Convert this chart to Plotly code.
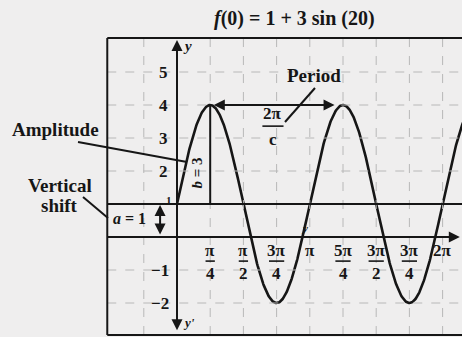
import numpy as np
import plotly.graph_objects as go

# Parameters of f(θ) = a + b·sin(cθ)
a_shift = 1
b_amp = 3
c_freq = 2

# Axis tick data (x ticks are multiples of π/4)
q = np.pi / 4
x_tick_k = [1, 2, 3, 4, 5, 6, 7, 8]
x_tick_num = ["π", "π", "3π", "π", "5π", "3π", "3π", "2π"]
x_tick_den = ["4", "2", "4", "", "4", "2", "4", ""]
y_ticks = [5, 4, 3, 2, -1, -2]
y_tick_text = ["5", "4", "3", "2", "−1", "−2"]
grid_x_k = [-1, 1, 2, 3, 4, 5, 6, 7, 8]
grid_y = [-2, -1, 2, 3, 4, 5]

# Plot frame (data units)
X0, X1 = -4.187, 6.742
Y0, Y1 = -3.03, 7.182
box_left = -2.1 * q
box_top = 6.03
box_bottom = -2.97

INK = "#161616"
FONT = "Liberation Serif"

theta = np.linspace(0, 8.7 * q, 600)
f = a_shift + b_amp * np.sin(c_freq * theta)

fig = go.Figure()
fig.add_trace(go.Scatter(x=theta, y=f, mode="lines",
                         line=dict(color=INK, width=2.6), hoverinfo="skip"))

shapes = []
# dashed grid inside the frame
for k in grid_x_k:
    shapes.append(dict(type="line", xref="x", yref="y", x0=k * q, x1=k * q,
                       y0=box_bottom, y1=box_top,
                       line=dict(color="#b8b8b8", width=1, dash="dash")))
for gy in grid_y:
    shapes.append(dict(type="line", xref="x", yref="y", x0=box_left, x1=X1,
                       y0=gy, y1=gy,
                       line=dict(color="#b8b8b8", width=1, dash="dash")))
# frame
shapes.append(dict(type="line", xref="x", yref="y", x0=box_left, x1=box_left,
                   y0=box_bottom, y1=box_top, line=dict(color=INK, width=2)))
shapes.append(dict(type="line", xref="x", yref="y", x0=box_left, x1=X1,
                   y0=box_top, y1=box_top, line=dict(color=INK, width=2)))
shapes.append(dict(type="line", xref="x", yref="y", x0=box_left, x1=X1,
                   y0=box_bottom, y1=box_bottom, line=dict(color=INK, width=2)))
# midline y = a
shapes.append(dict(type="line", xref="x", yref="y", x0=box_left, x1=X1,
                   y0=a_shift, y1=a_shift, line=dict(color=INK, width=2)))
# x axis
shapes.append(dict(type="line", xref="x", yref="y", x0=box_left, x1=6.6,
                   y0=0, y1=0, line=dict(color=INK, width=2)))
# amplitude segment at the first peak
peak_x = np.pi / (2 * c_freq)
shapes.append(dict(type="line", xref="x", yref="y", x0=peak_x, x1=peak_x,
                   y0=a_shift, y1=a_shift + b_amp, line=dict(color=INK, width=2)))
# fraction bars for tick labels
for k, num, den in zip(x_tick_k, x_tick_num, x_tick_den):
    if den:
        w = 0.36 if len(num) > 1 else 0.22
        shapes.append(dict(type="line", xref="x", yref="y",
                           x0=k * q - w / 2, x1=k * q + w / 2, y0=-0.73, y1=-0.73,
                           line=dict(color=INK, width=1.6)))
# 2π/c fraction bar
shapes.append(dict(type="line", xref="x", yref="y", x0=2.02, x1=2.52,
                   y0=3.36, y1=3.36, line=dict(color=INK, width=1.6)))
# pointer lines
shapes.append(dict(type="line", xref="paper", yref="paper",
                   x0=78 / 462, y0=1 - 142 / 337, x1=187 / 462, y1=1 - 162 / 337,
                   line=dict(color=INK, width=2)))
shapes.append(dict(type="line", xref="paper", yref="paper",
                   x0=83 / 462, y0=1 - 197 / 337, x1=108 / 462, y1=1 - 218 / 337,
                   line=dict(color=INK, width=2)))
shapes.append(dict(type="line", xref="paper", yref="paper",
                   x0=315 / 462, y0=1 - 88 / 337, x1=285 / 462, y1=1 - 122 / 337,
                   line=dict(color=INK, width=2)))

ann = []


def txt(x, y, s, size=14, bold=True, italic=False, ref="x", angle=0):
    if italic:
        s = "<i>" + s + "</i>"
    if bold:
        s = "<b>" + s + "</b>"
    ann.append(dict(x=x, y=y, xref=ref, yref="y" if ref == "x" else "paper",
                    text=s, showarrow=False, textangle=angle,
                    font=dict(family=FONT, size=size, color=INK),
                    xanchor="center", yanchor="middle"))


def arrow(x0, y0, x1, y1, both=False):
    ann.append(dict(x=x1, y=y1, ax=x0, ay=y0, xref="x", yref="y",
                    axref="x", ayref="y", text="", showarrow=True,
                    arrowhead=2, arrowsize=1.1, arrowwidth=2, arrowcolor=INK,
                    arrowside="end+start" if both else "end"))


# y axis with arrows at both ends
arrow(0, box_bottom + 0.1, 0, 5.97, both=True)
# x axis arrow
arrow(6.3, 0, 6.69, 0)
# vertical shift a
arrow(-0.4, 0.03, -0.4, a_shift - 0.03, both=True)
# period arrow between consecutive peaks
period = 2 * np.pi / c_freq
arrow(peak_x + 0.05, a_shift + b_amp, peak_x + period - 0.2, a_shift + b_amp, both=True)

# x tick labels
for k, num, den in zip(x_tick_k, x_tick_num, x_tick_den):
    txt(k * q, -0.42, num, size=17)
    if den:
        txt(k * q, -1.1, den, size=17)
# y tick labels
for v, s in zip(y_ticks, y_tick_text):
    txt(-0.32 if v > 0 else -0.4, v, s, size=17)
txt(-0.2, a_shift + 0.12, "1", size=11)

txt(0.25, 5.8, "y", size=15, italic=True)
txt(0.28, -2.6, "y'", size=13, italic=True)
txt(3.02, 0.28, "y", size=11, italic=True)
txt(-1.12, 0.55, "<i>a</i> = 1", size=16)
txt(0.47, 1.95, "<i>b</i> = 3", size=15, angle=-90)
txt(2.27, 3.74, "2π", size=17)
txt(2.27, 2.95, "c", size=17)

# annotation labels outside the frame (paper coords)
txt(55 / 462, 1 - 129 / 337, "Amplitude", size=19, ref="paper")
txt(60 / 462, 1 - 185 / 337, "Vertical", size=19, ref="paper")
txt(60 / 462, 1 - 205 / 337, "shift", size=19, ref="paper")
txt(314 / 462, 1 - 75 / 337, "Period", size=19, ref="paper")
txt(294 / 462, 1 - 19 / 337, "<i>f</i>(0) = 1 + 3 sin (20)", size=20, ref="paper")

fig.update_layout(
    width=462, height=337,
    margin=dict(l=0, r=0, t=0, b=0),
    paper_bgcolor="#efeeee", plot_bgcolor="#efeeee",
    showlegend=False,
    xaxis=dict(range=[X0, X1], visible=False, fixedrange=True),
    yaxis=dict(range=[Y0, Y1], visible=False, fixedrange=True),
    shapes=shapes, annotations=ann,
)

fig.write_html("out.html")
